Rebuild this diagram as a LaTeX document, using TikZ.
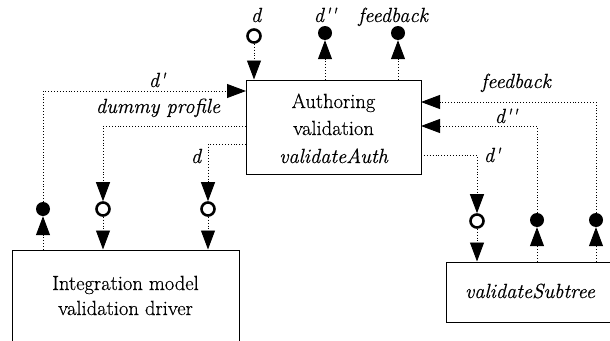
\documentclass[tikz,border=0pt]{standalone}
\usepackage{fontspec}
\setmainfont{Latin Modern Roman}[FakeBold=0.45,ItalicFeatures={FakeBold=0.45}]
\usetikzlibrary{arrows.meta}
\newcommand{\pr}{\textquotesingle}
\begin{document}
\begin{tikzpicture}[x=1pt,y=1pt,
  conn/.style={dotted,line width=0.9pt,-{Triangle[length=19pt,width=14pt]}},
  box/.style={draw,line width=1pt,inner sep=0pt},
  opendot/.style={circle,draw,line width=2.6pt,minimum size=13pt,inner sep=0pt},
  fulldot/.style={circle,fill,minimum size=14pt,inner sep=0pt},
  lab/.style={font=\fontsize{20.5}{24}\selectfont\itshape,inner sep=0pt,anchor=base},
  txt/.style={font=\fontsize{20.5}{24}\selectfont,inner sep=0pt,anchor=base}]
\useasboundingbox (0,0) rectangle (610,-340);
\clip (0,0) rectangle (610,-340);
% boxes
\node[box,minimum width=175pt,minimum height=94pt] (auth) at (333.5,-127) {};
\node[box,minimum width=227pt,minimum height=130pt] (drv) at (125.5,-315) {};
\node[box,minimum width=168pt,minimum height=60pt] (sub) at (530,-292) {};
% box texts
\node[txt] (t1) at (333.5,-108) {Authoring};
\node[txt] (t2) at (333.5,-135) {validation};
\node[lab] (t3) at (333.5,-163) {validateAuth};
\node[txt] (t4) at (125.5,-290) {Integration model};
\node[txt] (t5) at (125.5,-315) {validation driver};
\node[lab] (t6) at (530,-298) {validateSubtree};
% top circles
\node[opendot] (tD) at (254,-36) {};
\node[fulldot] (tDD) at (325,-33) {};
\node[fulldot] (tF) at (398,-33) {};
\node[lab] at (256,-22) {d};
\node[lab] at (325,-22) {d\pr\pr};
\node[lab] at (393,-22) {feedback};
\draw[conn] (tD) -- (tD |- auth.north);
\draw[conn] (tDD |- auth.north) -- (tDD);
\draw[conn] (tF |- auth.north) -- (tF);
% left side
\node[fulldot] (c1) at (43,-209) {};
\node[opendot] (c2) at (103,-209) {};
\node[opendot] (c3) at (208,-209) {};
\coordinate (aL1) at (246,-91);
\coordinate (aL2) at (246,-126);
\coordinate (aL3) at (246,-144);
\draw[conn] (c1 |- drv.north) -- (c1);
\draw[conn] (c1) |- (aL1);
\draw[conn] (aL2) -| (c2);
\draw[conn] (c2) -- (c2 |- drv.north);
\draw[conn] (aL3) -| (c3);
\draw[conn] (c3) -- (c3 |- drv.north);
\node[lab] at (157,-87) {d\pr};
\node[lab] at (158,-113) {dummy profile};
\node[lab] at (196,-163) {d};
% right side
\node[opendot] (c4) at (477,-221) {};
\node[fulldot] (c5) at (537,-220) {};
\node[fulldot] (c6) at (596,-220) {};
\coordinate (aR1) at (421,-102);
\coordinate (aR2) at (421,-126);
\coordinate (aR3) at (421,-155);
\draw[conn] (aR3) -| (c4);
\draw[conn] (c4) -- (c4 |- sub.north);
\draw[conn] (c5 |- sub.north) -- (c5);
\draw[conn] (c5) |- (aR2);
\draw[conn] (c6 |- sub.north) -- (c6);
\draw[conn] (c6) |- (aR1);
\node[lab] at (516,-88) {feedback};
\node[lab] at (506,-123) {d\pr\pr};
\node[lab] at (492,-162) {d\pr};
\end{tikzpicture}
\end{document}
